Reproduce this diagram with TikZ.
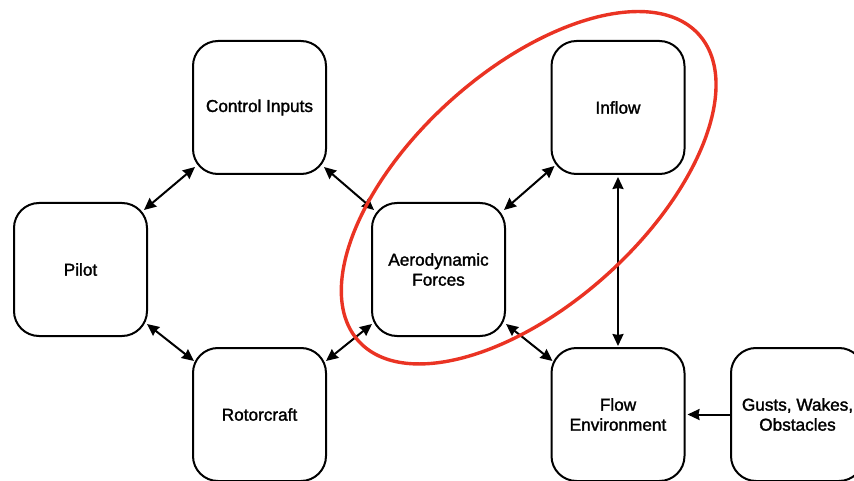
\documentclass[tikz,border=0pt]{standalone}
\usepackage{fontspec}
\setmainfont{Liberation Sans}
\newfontfamily\boxfont{Liberation Sans}[FakeBold=1.6]
\usetikzlibrary{arrows.meta,calc}
\definecolor{hlred}{HTML}{EA3323}
\tikzset{
  blockbox/.style={draw=black, line width=2pt, rounded corners=25pt,
    minimum width=133pt, minimum height=133pt, inner sep=0pt, align=center,
    font=\boxfont\fontsize{17.2}{20}\selectfont},
  link/.style={line width=2pt, {Stealth[length=12pt,width=11pt,inset=1pt]}-{Stealth[length=12pt,width=11pt,inset=1pt]}},
  onelink/.style={line width=2pt, -{Stealth[length=12pt,width=11pt,inset=1pt]}},
}
\begin{document}
\begin{tikzpicture}[x=1pt,y=-1pt]
\useasboundingbox (0,0) rectangle (854,481);
\node[blockbox] (ctrl) at (259.5,107.5) {Control Inputs};
\node[blockbox] (pilot) at (80.5,269.5) {Pilot};
\node[blockbox] (aero) at (438.5,269.5) {Aerodynamic\\Forces};
\node[blockbox] (inflow) at (618,107.5) {Inflow};
\node[blockbox] (rotor) at (259.5,414.5) {Rotorcraft};
\node[blockbox] (flow) at (618,414.5) {Flow\\Environment};
\node[blockbox] (gusts) at (797.5,414.5) {Gusts, Wakes,\\Obstacles};
\draw[link] ($(pilot.north east)+(-4,8)$) -- ($(ctrl.south west)+(3,-8)$);
\draw[link] ($(ctrl.south east)+(-3,-8)$) -- ($(aero.north west)+(3,8)$);
\draw[link] ($(pilot.south east)+(-1,-13)$) -- ($(rotor.north west)+(2,14)$);
\draw[link] ($(rotor.north east)+(-1,14)$) -- ($(aero.south west)+(1,-13)$);
\draw[link] ($(aero.north east)+(-2,8)$) -- ($(inflow.south west)+(4,-9)$);
\draw[link] ($(aero.south east)+(0,-13)$) -- ($(flow.north west)+(2,14)$);
\draw[link, shorten <=2pt, shorten >=1pt] (inflow.south) -- (flow.north);
\draw[onelink, shorten >=2pt] (gusts.west) -- (flow.east);
\draw[hlred, line width=3.4pt, rotate around={42:(528,187)}] (528,188) ellipse [x radius=229, y radius=117];
\end{tikzpicture}
\end{document}
